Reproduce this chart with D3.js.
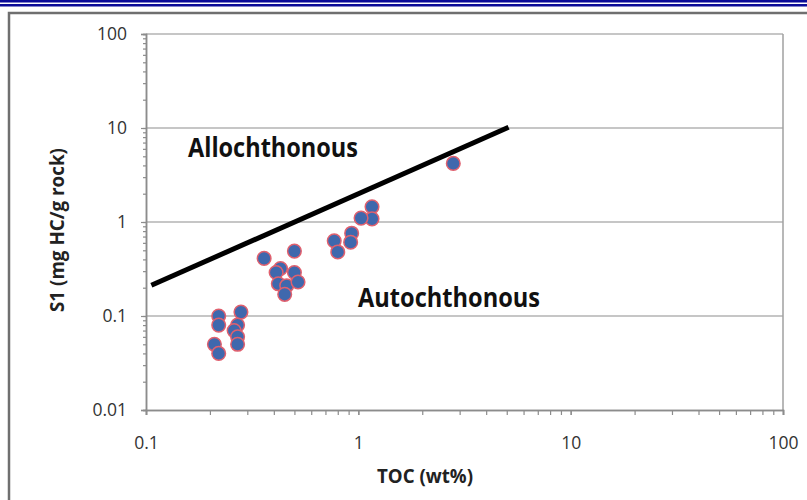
<!DOCTYPE html>
<html>
<head>
<meta charset="utf-8">
<script src="https://cdn.jsdelivr.net/npm/d3@7"></script>
<style>
  body { margin: 0; background: #fff; }
  svg { display: block; font-family: "Open Sans", sans-serif; }
</style>
</head>
<body>
<div class="graph-div"></div>
<script>
var outerWidth = 807;
var outerHeight = 500;

// sample points (TOC wt%, S1 mg HC/g rock)
var tocValues = [2.8, 1.16, 1.16, 1.03, 0.77, 0.8, 0.93, 0.92,
                 0.36, 0.50, 0.43, 0.41, 0.50, 0.42, 0.46, 0.52, 0.45,
                 0.22, 0.28, 0.22, 0.27, 0.26, 0.27, 0.21, 0.27, 0.22];
var s1Values  = [4.2, 1.45, 1.08, 1.10, 0.63, 0.48, 0.76, 0.61,
                 0.41, 0.49, 0.32, 0.29, 0.29, 0.22, 0.21, 0.23, 0.17,
                 0.10, 0.11, 0.08, 0.08, 0.07, 0.06, 0.05, 0.05, 0.04];

// dividing line S1 = 2 x TOC
var lineToc = [0.106, 5.1];
var lineS1 = [0.212, 10.2];

var xTickValues = [0.1, 1, 10, 100];
var xTickLabels = ["0.1", "1", "10", "100"];
var yTickValues = [0.01, 0.1, 1, 10, 100];
var yTickLabels = ["0.01", "0.1", "1", "10", "100"];

var xLabel = "TOC (wt%)";
var yLabel = "S1 (mg HC/g rock)";
var upperLabel = "Allochthonous";
var lowerLabel = "Autochthonous";

var plot = {left: 146, top: 34, right: 783, bottom: 410};

var svg = d3.select(".graph-div").append("svg")
    .attr("width", outerWidth)
    .attr("height", outerHeight);

// blue double rule along the top
svg.append("rect").attr("x", 0).attr("y", 0).attr("width", outerWidth).attr("height", 2.5).attr("fill", "#0b0b98");
svg.append("rect").attr("x", 0).attr("y", 4).attr("width", outerWidth).attr("height", 2.5).attr("fill", "#0b0b98");

// frame
svg.append("rect")
    .attr("x", 9).attr("y", 13)
    .attr("width", 900).attr("height", 600)
    .attr("fill", "none")
    .attr("stroke", "#6f6f6f")
    .attr("stroke-width", 2.5);

var xScale = d3.scaleLog().domain([0.1, 100]).range([plot.left, plot.right]);
var yScale = d3.scaleLog().domain([0.01, 100]).range([plot.bottom, plot.top]);

// horizontal grid
svg.append("g").selectAll("line")
    .data(yTickValues.slice(1))
    .join("line")
    .attr("x1", plot.left).attr("x2", plot.right)
    .attr("y1", d => yScale(d)).attr("y2", d => yScale(d))
    .attr("stroke", "#b3b3b3")
    .attr("stroke-width", 1.5);

// right border
svg.append("line")
    .attr("x1", plot.right).attr("x2", plot.right)
    .attr("y1", plot.top).attr("y2", plot.bottom)
    .attr("stroke", "#a0a0a0").attr("stroke-width", 1.5);

// minor ticks
var xMinor = d3.axisBottom(xScale).tickValues(xScale.ticks()).tickFormat("").tickSize(5);
var yMinor = d3.axisLeft(yScale).tickValues(yScale.ticks()).tickFormat("").tickSize(3);

var xMinorG = svg.append("g").attr("transform", `translate(0, ${plot.bottom})`).call(xMinor);
var yMinorG = svg.append("g").attr("transform", `translate(${plot.left}, 0)`).call(yMinor);

// major axes
const xAxis = d3.axisBottom(xScale)
    .tickValues(xTickValues)
    .tickFormat((d, i) => xTickLabels[i])
    .tickSize(5)
    .tickPadding(22);
const yAxis = d3.axisLeft(yScale)
    .tickValues(yTickValues)
    .tickFormat((d, i) => yTickLabels[i])
    .tickSize(5)
    .tickPadding(14);

var xAxisG = svg.append("g").attr("transform", `translate(0, ${plot.bottom})`).call(xAxis);
var yAxisG = svg.append("g").attr("transform", `translate(${plot.left}, 0)`).call(yAxis);

[xMinorG, yMinorG, xAxisG, yAxisG].forEach(function(g) {
  g.select(".domain").attr("stroke", "#8c8c8c").attr("stroke-width", 1.5);
  g.selectAll(".tick line").attr("stroke", "#8c8c8c").attr("stroke-width", 1.2);
  g.selectAll("text").attr("font-size", 17.5).attr("fill", "#333").attr("font-family", "Open Sans, sans-serif");
});

// dividing line
var lineData = lineToc.map((d, i) => ({x: d, y: lineS1[i]}));
svg.append("path")
    .attr("d", d3.line().x(d => xScale(d.x)).y(d => yScale(d.y))(lineData))
    .attr("fill", "none")
    .attr("stroke", "#000")
    .attr("stroke-width", 5);

// samples
svg.append("g").selectAll("circle")
    .data(tocValues.map((d, i) => ({x: d, y: s1Values[i]})))
    .join("circle")
    .attr("cx", d => xScale(d.x))
    .attr("cy", d => yScale(d.y))
    .attr("r", 6.8)
    .attr("fill", "#3f68ad")
    .attr("stroke", "#e0606e")
    .attr("stroke-width", 1.5);

// region labels
svg.append("text")
    .attr("x", 188).attr("y", 157)
    .attr("font-size", 26).attr("font-weight", "bold")
    .attr("textLength", 170).attr("lengthAdjust", "spacingAndGlyphs")
    .attr("fill", "#111")
    .text(upperLabel);
svg.append("text")
    .attr("x", 358).attr("y", 307)
    .attr("font-size", 26).attr("font-weight", "bold")
    .attr("textLength", 182).attr("lengthAdjust", "spacingAndGlyphs")
    .attr("fill", "#111")
    .text(lowerLabel);

// axis titles
svg.append("text")
    .attr("x", 377).attr("y", 483)
    .attr("font-size", 20).attr("font-weight", "bold")
    .attr("textLength", 96).attr("lengthAdjust", "spacingAndGlyphs")
    .attr("fill", "#222")
    .text(xLabel);
svg.append("text")
    .attr("transform", "translate(64, 312) rotate(-90)")
    .attr("font-size", 19).attr("font-weight", "bold")
    .attr("textLength", 164).attr("lengthAdjust", "spacingAndGlyphs")
    .attr("fill", "#222")
    .text(yLabel);
</script>
</body>
</html>
